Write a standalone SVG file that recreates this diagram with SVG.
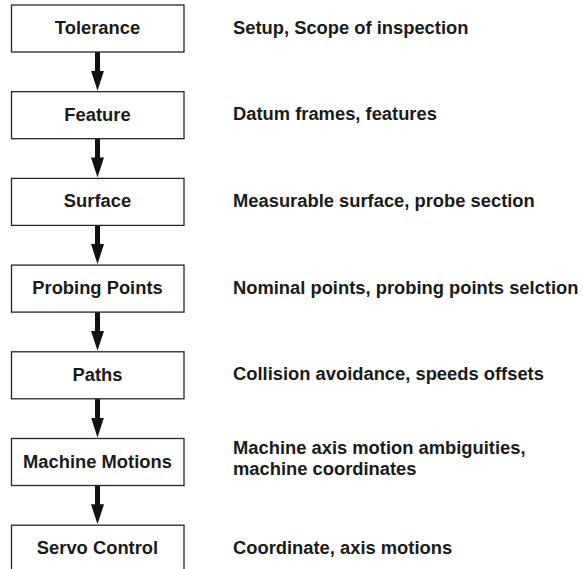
<svg xmlns="http://www.w3.org/2000/svg" width="583" height="569" viewBox="0 0 583 569">
<style>
.box{fill:#fff;stroke:#262626;stroke-width:1.3}
.lbl{font-family:"Liberation Sans",Arial,sans-serif;font-weight:bold;font-size:18.35px;fill:#1a1a1a}
.c{text-anchor:middle}
.arr{stroke:#111;stroke-width:5;stroke-linecap:round;fill:none}
</style>
<defs>
<marker id="ah" markerUnits="userSpaceOnUse" markerWidth="20" markerHeight="13" viewBox="0 0 20 13" refX="0" refY="6.5" orient="auto">
<path d="M0,0 L20,6.5 L0,13 Z" fill="#111"/>
</marker>
</defs>
<rect width="583" height="569" fill="#fff"/>
<g id="connectors">
<line class="arr" x1="97.5" y1="52.5" x2="97.5" y2="70.7" marker-end="url(#ah)"/>
<line class="arr" x1="97.5" y1="139.2" x2="97.5" y2="157.4" marker-end="url(#ah)"/>
<line class="arr" x1="97.5" y1="225.9" x2="97.5" y2="244.1" marker-end="url(#ah)"/>
<line class="arr" x1="97.5" y1="312.6" x2="97.5" y2="330.8" marker-end="url(#ah)"/>
<line class="arr" x1="97.5" y1="399.3" x2="97.5" y2="417.5" marker-end="url(#ah)"/>
<line class="arr" x1="97.5" y1="486" x2="97.5" y2="504.2" marker-end="url(#ah)"/>
</g>
<g id="n1"><rect class="box" x="11.5" y="5" width="172.5" height="47"/><text class="lbl c" x="97.5" y="34">Tolerance</text></g>
<g id="n2"><rect class="box" x="11.5" y="91.7" width="172.5" height="47"/><text class="lbl c" x="97.5" y="120.7">Feature</text></g>
<g id="n3"><rect class="box" x="11.5" y="178.4" width="172.5" height="47"/><text class="lbl c" x="97.5" y="207.4">Surface</text></g>
<g id="n4"><rect class="box" x="11.5" y="265.1" width="172.5" height="47"/><text class="lbl c" x="97.5" y="294.1">Probing Points</text></g>
<g id="n5"><rect class="box" x="11.5" y="351.8" width="172.5" height="47"/><text class="lbl c" x="97.5" y="380.8">Paths</text></g>
<g id="n6"><rect class="box" x="11.5" y="438.5" width="172.5" height="47"/><text class="lbl c" x="97.5" y="467.5">Machine Motions</text></g>
<g id="n7"><rect class="box" x="11.5" y="525.2" width="172.5" height="60"/><text class="lbl c" x="97.5" y="554">Servo Control</text></g>
<g id="descriptions">
<text class="lbl" x="233" y="33.5">Setup, Scope of inspection</text>
<text class="lbl" x="233" y="120.2">Datum frames, features</text>
<text class="lbl" x="233" y="206.9">Measurable surface, probe section</text>
<text class="lbl" x="233" y="293.6">Nominal points, probing points selction</text>
<text class="lbl" x="233" y="380.3">Collision avoidance, speeds offsets</text>
<text class="lbl" x="233" y="453.5">Machine axis motion ambiguities,</text>
<text class="lbl" x="233" y="475">machine coordinates</text>
<text class="lbl" x="233" y="553.5">Coordinate, axis motions</text>
</g>
</svg>
